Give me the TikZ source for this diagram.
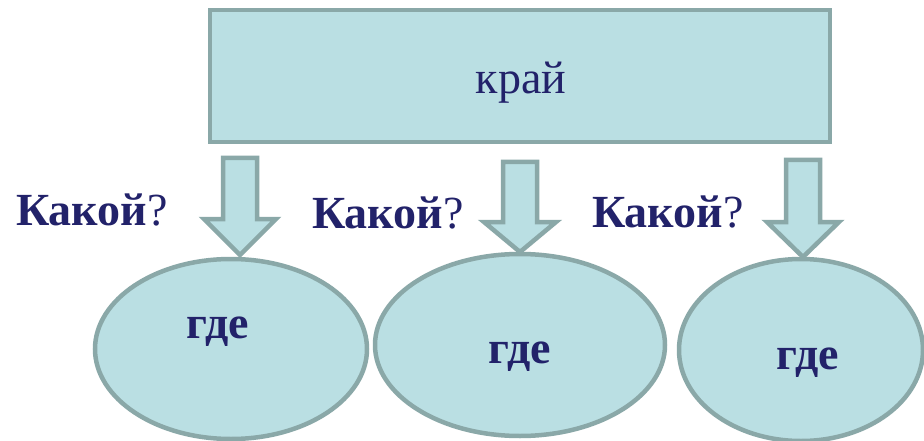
\documentclass[tikz,border=0pt]{standalone}
\usepackage{fontspec}
\setmainfont{Liberation Serif}
\usetikzlibrary{shapes.geometric}
\definecolor{boxfill}{RGB}{186,223,227}
\definecolor{boxline}{RGB}{138,168,168}
\definecolor{ink}{RGB}{34,34,106}
\tikzstyle{every node}=[font=\fontsize{46}{50}\selectfont,text=ink]
\tikzstyle{topbox}=[draw=boxline,fill=boxfill,line width=4.5pt,rectangle,minimum width=620pt,minimum height=132pt,inner sep=0pt]
\tikzstyle{oval}=[draw=boxline,fill=boxfill,line width=4.5pt,ellipse,inner sep=0pt]
\tikzstyle{blockarrow}=[draw=boxline,fill=boxfill,line width=4.5pt,line join=miter]
\tikzstyle{ovaltext}=[anchor=base,font=\fontsize{46}{50}\selectfont\bfseries]

\begin{document}
\begin{tikzpicture}[x=1pt,y=-1pt]
\clip (0,0) rectangle (924,441);
\fill[white] (0,0) rectangle (924,441);

\node[topbox] (kraj) at (520,76) {};
\node[anchor=base] (krajtext) at (521,94) {край};

% ovals
\node[oval,minimum width=272pt,minimum height=180pt] (o1) at (231,349) {};
\node[oval,minimum width=290pt,minimum height=182pt] (o2) at (520,345) {};
\node[oval,minimum width=244pt,minimum height=182pt] (o3) at (801,350) {};
\node[ovaltext] (g1) at (218,338) {где};
\node[ovaltext] (g2) at (520,363) {где};
\node[ovaltext] (g3) at (808,369) {где};

% arrows
\foreach \x/\t/\h/\b in {240/158/219/255, 520/162/222/252, 803/160/222/257}{
  \draw[blockarrow] (\x-17,\t) -- (\x+17,\t) -- (\x+17,\h) -- (\x+36,\h)
    -- (\x,\b) -- (\x-36,\h) -- (\x-17,\h) -- cycle;
}

\node[anchor=base] (q1) at (92,225) {\textbf{Какой}?};
\node[anchor=base] (q2) at (388,228) {\textbf{Какой}?};
\node[anchor=base] (q3) at (668,227) {\textbf{Какой}?};
\end{tikzpicture}
\end{document}
